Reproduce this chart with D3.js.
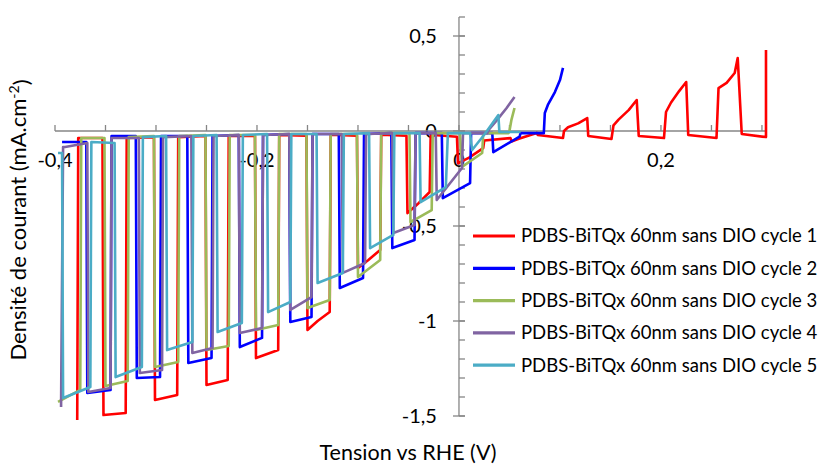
<!DOCTYPE html>
<html>
<head>
<meta charset="utf-8">
<script src="https://cdn.jsdelivr.net/npm/d3@7"></script>
<style>
  body { margin: 0; background: #fff; }
  svg { font-family: Lato, "Open Sans", sans-serif; }
</style>
</head>
<body>
<svg id="chart" width="823" height="464"></svg>
<script>
// chopped-light LSV, points in scan order [V, mA/cm2]
var cycle1 = [
  [0.304, 0.426], [0.304, -0.032], [0.280, -0.016],
  [0.276, 0.384], [0.273, 0.305], [0.265, 0.253], [0.257, 0.226], [0.255, -0.037],
  [0.227, -0.021], [0.225, 0.258], [0.218, 0.21], [0.21, 0.15], [0.205, 0.1], [0.203, -0.037],
  [0.178, -0.026], [0.176, 0.163], [0.168, 0.11], [0.158, 0.06], [0.153, 0.03], [0.151, -0.042],
  [0.128, -0.026], [0.127, 0.068], [0.118, 0.04], [0.108, 0.02], [0.104, 0.0], [0.103, -0.037],
  [0.078, -0.021], [0.077, -0.01], [0.06, -0.04], [0.052, -0.055], [0.051, -0.037],
  [0.025, -0.05], [0.024, -0.09], [0.01, -0.14], [-0.001, -0.17], [-0.002, -0.03],
  [-0.028, -0.02], [-0.029, -0.321], [-0.04, -0.38], [-0.051, -0.432], [-0.052, -0.025],
  [-0.077, -0.02], [-0.078, -0.626], [-0.09, -0.68], [-0.1, -0.721], [-0.101, -0.025],
  [-0.127, -0.02], [-0.128, -0.953], [-0.14, -1.0], [-0.15, -1.047], [-0.151, -0.025],
  [-0.178, -0.021], [-0.179, -1.153], [-0.201, -1.195], [-0.202, -0.026],
  [-0.228, -0.026], [-0.229, -1.311], [-0.25, -1.337], [-0.251, -0.026],
  [-0.278, -0.032], [-0.279, -1.389], [-0.301, -1.416], [-0.302, -0.032],
  [-0.329, -0.037], [-0.330, -1.484], [-0.352, -1.495], [-0.353, -0.037],
  [-0.377, -0.037], [-0.378, -1.521]
];
var cycle2 = [
  [0.103, 0.332], [0.100, 0.268], [0.095, 0.205], [0.088, 0.137], [0.085, 0.095], [0.084, -0.011],
  [0.061, -0.011], [0.060, -0.03], [0.034, -0.111], [0.033, -0.011],
  [0.012, -0.011], [0.011, -0.274], [-0.016, -0.353], [-0.017, -0.011],
  [-0.043, -0.011], [-0.044, -0.574], [-0.066, -0.616], [-0.067, -0.011],
  [-0.094, -0.016], [-0.095, -0.774], [-0.118, -0.826], [-0.119, -0.016],
  [-0.145, -0.016], [-0.146, -0.979], [-0.167, -1.005], [-0.168, -0.016],
  [-0.194, -0.021], [-0.195, -1.089], [-0.217, -1.137], [-0.218, -0.021],
  [-0.244, -0.026], [-0.245, -1.195], [-0.268, -1.221], [-0.269, -0.026],
  [-0.295, -0.026], [-0.296, -1.295], [-0.319, -1.3], [-0.320, -0.026],
  [-0.344, -0.026], [-0.345, -1.363], [-0.368, -1.379], [-0.369, -0.058],
  [-0.393, -0.058]
];
var cycle3 = [
  [0.055, 0.121], [0.052, 0.06], [0.050, 0.0], [0.049, -0.011],
  [0.024, -0.011], [0.023, -0.116], [0.003, -0.189], [0.001, -0.011],
  [-0.026, -0.011], [-0.027, -0.416], [-0.048, -0.479], [-0.049, -0.011],
  [-0.077, -0.011], [-0.078, -0.679], [-0.100, -0.768], [-0.101, -0.016],
  [-0.127, -0.016], [-0.128, -0.889], [-0.150, -0.932], [-0.151, -0.016],
  [-0.178, -0.016], [-0.179, -1.021], [-0.201, -1.047], [-0.202, -0.021],
  [-0.227, -0.021], [-0.228, -1.132], [-0.250, -1.153], [-0.251, -0.021],
  [-0.277, -0.026], [-0.278, -1.216], [-0.301, -1.242], [-0.302, -0.026],
  [-0.327, -0.032], [-0.328, -1.316], [-0.350, -1.342], [-0.351, -0.037],
  [-0.374, -0.037], [-0.375, -1.363], [-0.397, -1.426]
];
var cycle4 = [
  [0.055, 0.179], [0.047, 0.12], [0.038, 0.06], [0.030, 0.01], [0.028, -0.011],
  [0.004, -0.011], [0.003, -0.195], [-0.022, -0.363], [-0.023, -0.011],
  [-0.043, -0.011], [-0.044, -0.495], [-0.065, -0.537], [-0.066, -0.011],
  [-0.092, -0.016], [-0.093, -0.695], [-0.115, -0.747], [-0.116, -0.016],
  [-0.145, -0.016], [-0.146, -0.874], [-0.167, -0.942], [-0.168, -0.016],
  [-0.194, -0.021], [-0.195, -1.037], [-0.217, -1.063], [-0.218, -0.021],
  [-0.243, -0.026], [-0.244, -1.142], [-0.264, -1.168], [-0.265, -0.026],
  [-0.293, -0.032], [-0.294, -1.258], [-0.316, -1.274], [-0.317, -0.037],
  [-0.344, -0.037], [-0.345, -1.353], [-0.367, -1.374], [-0.368, -0.063],
  [-0.390, -0.084], [-0.392, -0.084], [-0.394, -1.453]
];
var cycle5 = [
  [0.061, -0.005], [0.040, -0.005], [0.039, 0.084], [0.025, -0.02], [0.013, -0.1], [0.011, -0.011],
  [-0.011, -0.011], [-0.013, -0.295], [-0.038, -0.374], [-0.039, -0.011],
  [-0.064, -0.011], [-0.065, -0.547], [-0.088, -0.616], [-0.089, -0.011],
  [-0.114, -0.016], [-0.115, -0.747], [-0.140, -0.8], [-0.141, -0.016],
  [-0.166, -0.016], [-0.167, -0.9], [-0.189, -0.953], [-0.190, -0.016],
  [-0.214, -0.021], [-0.215, -1.011], [-0.239, -1.058], [-0.240, -0.021],
  [-0.263, -0.026], [-0.264, -1.111], [-0.289, -1.153], [-0.290, -0.026],
  [-0.313, -0.032], [-0.314, -1.242], [-0.340, -1.295], [-0.341, -0.063],
  [-0.364, -0.058], [-0.365, -1.347], [-0.392, -1.405], [-0.393, -0.116],
  [-0.397, -0.116]
];

var seriesNames = [
  "PDBS-BiTQx 60nm sans DIO cycle 1",
  "PDBS-BiTQx 60nm sans DIO cycle 2",
  "PDBS-BiTQx 60nm sans DIO cycle 3",
  "PDBS-BiTQx 60nm sans DIO cycle 4",
  "PDBS-BiTQx 60nm sans DIO cycle 5"
];
var seriesColors = ["#ff0000", "#0000ff", "#9bbb59", "#8064a2", "#4bacc6"];
var xTickLabels = [-0.4, -0.2, 0, 0.2];
var yTickLabels = [-1.5, -1, -0.5, 0, 0.5];

var allSeries = [cycle1, cycle2, cycle3, cycle4, cycle5];

var svg = d3.select("#chart");
var x = d3.scaleLinear().domain([-0.4, 0.305]).range([55, 767]);
var y = d3.scaleLinear().domain([-1.5, 0.6]).range([416, 17]);
var fmt = function(v) { return String(v).replace(".", ","); };
var axisColor = "#868686";

// y axis sits at V = 0
var gy = svg.append("g").attr("transform", "translate(" + x(0) + ",0)");
gy.append("line").attr("y1", y(0.6)).attr("y2", y(-1.5))
  .attr("stroke", axisColor).attr("stroke-width", 1.3);
gy.selectAll(".minor").data(d3.range(-15, 7).map(function(i) { return i / 10; }))
  .enter().append("line")
  .attr("x1", 0).attr("x2", 6)
  .attr("y1", function(d) { return y(d); }).attr("y2", function(d) { return y(d); })
  .attr("stroke", axisColor).attr("stroke-width", 1.3);
gy.selectAll(".major").data(yTickLabels).enter().append("line")
  .attr("x1", -6).attr("x2", 6)
  .attr("y1", function(d) { return y(d); }).attr("y2", function(d) { return y(d); })
  .attr("stroke", axisColor).attr("stroke-width", 1.3);
gy.selectAll("text").data(yTickLabels).enter().append("text")
  .attr("x", -22).attr("y", function(d) { return y(d); })
  .attr("dy", "0.35em").attr("text-anchor", "end")
  .attr("font-size", 20).attr("fill", "#000")
  .text(fmt);

// x axis sits at J = 0
var gx = svg.append("g").attr("transform", "translate(0," + y(0) + ")");
gx.append("line").attr("x1", x(-0.4)).attr("x2", x(0.305))
  .attr("stroke", axisColor).attr("stroke-width", 1.3);
gx.selectAll(".tick").data(d3.range(-8, 7).map(function(i) { return i * 0.05; }))
  .enter().append("line")
  .attr("x1", function(d) { return x(d); }).attr("x2", function(d) { return x(d); })
  .attr("y1", -6).attr("y2", 0)
  .attr("stroke", axisColor).attr("stroke-width", 1.3);
gx.selectAll("text").data(xTickLabels).enter().append("text")
  .attr("x", function(d) { return x(d); }).attr("y", 29)
  .attr("dy", "0.35em").attr("text-anchor", "middle")
  .attr("font-size", 20).attr("fill", "#000")
  .text(fmt);

// curves
var line = d3.line().x(function(d) { return x(d[0]); }).y(function(d) { return y(d[1]); });
svg.append("g").selectAll("path").data(allSeries).enter().append("path")
  .attr("d", line)
  .attr("fill", "none")
  .attr("stroke", function(d, i) { return seriesColors[i]; })
  .attr("stroke-width", 2.6)
  .attr("stroke-linejoin", "round");

// axis titles
svg.append("text").attr("x", 408).attr("y", 452).attr("dy", "0.35em")
  .attr("text-anchor", "middle").attr("font-size", 21.5)
  .text("Tension vs RHE (V)");
var yt = svg.append("text")
  .attr("transform", "translate(18,220) rotate(-90)")
  .attr("dy", "0.35em").attr("text-anchor", "middle").attr("font-size", 22);
yt.append("tspan").text("Densité de courant (mA.cm");
yt.append("tspan").attr("dy", "-0.45em").attr("font-size", 14).text("-2");
yt.append("tspan").attr("dy", "0.45em").text(")");

// legend
var lg = svg.append("g").selectAll("g").data(seriesNames).enter().append("g")
  .attr("transform", function(d, i) { return "translate(473," + (236 + i * 32.3) + ")"; });
lg.append("line").attr("x1", 0).attr("x2", 42)
  .attr("stroke", function(d, i) { return seriesColors[i]; })
  .attr("stroke-width", 3.2);
lg.append("text").attr("x", 48).attr("dy", "0.35em")
  .attr("font-size", 18.5).text(function(d) { return d; });
</script>
</body>
</html>
